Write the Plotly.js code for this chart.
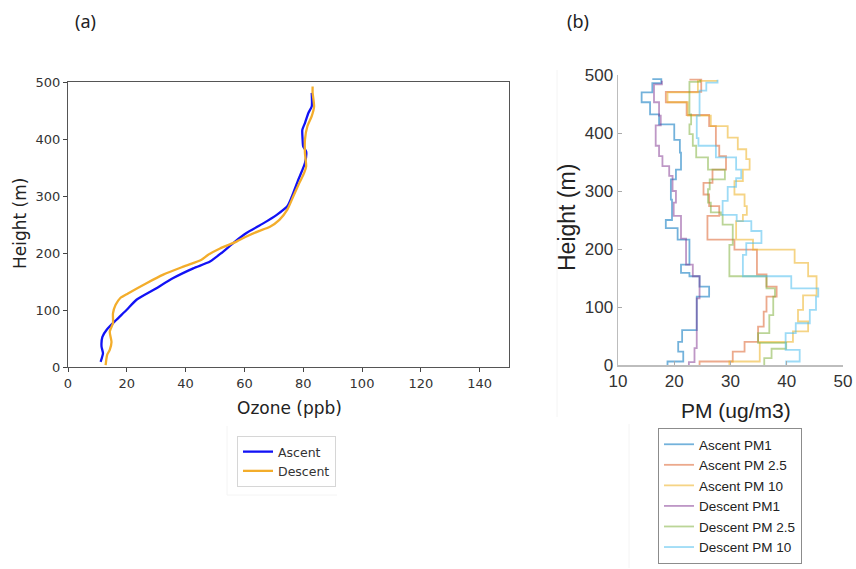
<!DOCTYPE html>
<html>
<head>
<meta charset="utf-8">
<script src="https://cdn.plot.ly/plotly-3.0.1.min.js"></script>
<style>
  html, body { margin: 0; padding: 0; background: #ffffff; }
  #chart { width: 856px; height: 569px; }
</style>
</head>
<body>
<div id="chart"></div>
<script>
// (a) Ozone profiles: ascent and descent, height in metres
const ozoneAscentHeight = [9, 24, 36, 53, 65, 83, 100, 118, 135, 156, 173, 185, 200, 220, 235, 252, 267, 282, 305, 328, 358, 378, 387, 399, 416, 428, 446, 457, 481];
const ozoneAscent       = [11.1, 11.9, 11.4, 11.7, 13.1, 16.5, 19.9, 23.3, 29.0, 35.8, 42.6, 48.3, 52.2, 56.8, 60.7, 66.4, 71.0, 74.6, 76.6, 78.3, 80.6, 81.0, 80.0, 79.8, 79.7, 80.6, 81.8, 82.9, 82.9];
const ozoneDescentHeight = [3.5, 21, 30, 44, 62, 77, 94, 109, 121, 129, 147, 162, 176, 188, 197, 208, 220, 229, 238, 246, 258, 276, 299, 323, 340, 352, 375, 399, 422, 440, 457, 481, 492];
const ozoneDescent       = [12.8, 13.3, 14.2, 14.8, 14.2, 15.3, 15.3, 16.2, 17.8, 20.4, 26.7, 32.4, 39.2, 45.4, 47.7, 51.7, 57.3, 60.7, 64.7, 68.7, 71.9, 74.6, 76.6, 78.7, 80.3, 81.0, 80.6, 80.6, 81.4, 82.9, 83.7, 83.2, 83.2];

// (b) Particulate matter profiles (ug/m3); each value holds from its height up to the next one
const ascPM1Height  = [0, 6, 23, 40, 60, 118, 135, 153, 159, 173, 216, 236, 250, 285, 320, 337, 366, 388, 415, 432, 453, 470, 486, 493];
const ascPM1        = [18.8, 21.6, 20.7, 21.4, 24.0, 26.2, 24.5, 22.7, 21.2, 22.7, 20.6, 18.5, 19.6, 19.4, 20.3, 21.2, 21.0, 20.0, 17.3, 15.7, 14.2, 16.1, 17.7, 16.1];
const ascPM25Height = [0, 6, 23, 40, 66, 92, 118, 135, 156, 199, 216, 257, 274, 294, 314, 337, 360, 378, 412, 431, 453, 471, 492];
const ascPM25       = [24.5, 30.4, 32.5, 34.9, 35.9, 36.4, 38.2, 36.4, 34.7, 30.7, 25.9, 28.0, 26.2, 25.2, 26.8, 29.2, 28.0, 27.4, 26.2, 22.2, 18.5, 24.8, 22.7];
const ascPM10Height = [0, 6, 40, 58, 75, 95, 120, 153, 176, 199, 216, 248, 259, 274, 294, 317, 337, 355, 372, 392, 412, 430, 453, 470, 490];
const ascPM10       = [29.8, 35.2, 41.1, 43.8, 42.0, 42.9, 45.3, 43.8, 41.4, 34.0, 31.0, 32.2, 32.9, 32.5, 30.7, 32.2, 33.4, 32.8, 31.3, 29.5, 26.5, 22.4, 18.8, 24.2, 27.7];
const desPM1Height  = [0, 5, 29, 115, 153, 173, 218, 257, 280, 300, 326, 343, 360, 378, 413, 430, 453, 484, 490];
const desPM1        = [22.6, 23.6, 24.0, 24.5, 23.3, 22.1, 21.2, 19.9, 20.3, 19.7, 19.1, 17.9, 17.3, 16.7, 17.6, 17.3, 16.4, 17.8, 17.8];
const desPM25Height = [0, 12, 28, 38, 55, 86, 118, 132, 153, 207, 242, 259, 263, 280, 303, 320, 337, 358, 378, 398, 415, 432, 488, 492];
const desPM25       = [36.0, 37.3, 39.9, 34.9, 36.9, 37.6, 37.9, 36.4, 29.8, 30.4, 28.6, 28.3, 26.5, 26.0, 26.3, 29.0, 26.0, 23.9, 23.3, 22.7, 23.0, 22.7, 24.6, 24.6];
const desPM10Height = [0, 6, 26, 55, 72, 95, 118, 132, 153, 190, 210, 231, 248, 259, 283, 307, 322, 337, 358, 378, 391, 430, 473, 487, 492];
const desPM10       = [39.9, 42.3, 39.8, 41.6, 44.1, 45.2, 45.6, 40.8, 32.2, 32.8, 35.5, 33.7, 31.1, 28.6, 29.5, 31.0, 31.9, 31.0, 27.4, 24.3, 24.0, 24.5, 25.7, 27.7, 27.7];

const ozoneTicks = [0, 20, 40, 60, 80, 100, 120, 140];
const pmTicks = [10, 20, 30, 40, 50];
const heightTicks = [0, 100, 200, 300, 400, 500];

const pyFont = 'DejaVu Sans, Verdana, sans-serif';
const mlFont = 'Liberation Sans, Arial, Helvetica, sans-serif';

function ozoneTrace(name, x, y, color) {
  return {
    type: 'scatter', mode: 'lines', name: name, x: x, y: y,
    xaxis: 'x', yaxis: 'y', legend: 'legend',
    line: { color: color, width: 2.3, shape: 'spline', smoothing: 0.6 }
  };
}
function pmTrace(name, x, y, color) {
  return {
    type: 'scatter', mode: 'lines', name: name, x: x, y: y,
    xaxis: 'x2', yaxis: 'y2', legend: 'legend2',
    line: { color: color, width: 1.8, shape: 'vh' }
  };
}

const data = [
  ozoneTrace('Ascent', ozoneAscent, ozoneAscentHeight, '#1212f5'),
  ozoneTrace('Descent', ozoneDescent, ozoneDescentHeight, '#f3ad2b'),
  pmTrace('Ascent PM1', ascPM1, ascPM1Height, 'rgba(0,114,189,0.55)'),
  pmTrace('Ascent PM 2.5', ascPM25, ascPM25Height, 'rgba(217,83,25,0.5)'),
  pmTrace('Ascent PM 10', ascPM10, ascPM10Height, 'rgba(237,177,32,0.55)'),
  pmTrace('Descent PM1', desPM1, desPM1Height, 'rgba(126,47,142,0.5)'),
  pmTrace('Descent PM 2.5', desPM25, desPM25Height, 'rgba(119,172,48,0.5)'),
  pmTrace('Descent PM 10', desPM10, desPM10Height, 'rgba(77,190,238,0.55)')
];

const W = 856, H = 569;
const px = v => v / W;
const py = v => 1 - v / H;

function label(text, x, y, family, size, angle) {
  return {
    text: text, x: px(x), y: py(y), xref: 'paper', yref: 'paper', showarrow: false,
    xanchor: 'center', yanchor: 'middle', textangle: angle || 0,
    font: { family: family, size: size, color: '#222' }
  };
}

// faint edges of the separate figure panels
function edge(x0, y0, x1, y1) {
  return {
    type: 'line', xref: 'paper', yref: 'paper', layer: 'below',
    x0: px(x0), x1: px(x1), y0: py(y0), y1: py(y1),
    line: { color: '#f4f4f4', width: 1 }
  };
}

const layout = {
  width: W, height: H,
  margin: { l: 0, r: 0, t: 0, b: 0 },
  paper_bgcolor: '#ffffff', plot_bgcolor: '#ffffff',
  showlegend: true,
  xaxis: {
    domain: [px(68), px(509)], range: [0, 150], anchor: 'y',
    tickvals: ozoneTicks, ticks: 'outside', ticklen: 4, tickcolor: '#444', tickwidth: 1,
    showline: true, linecolor: '#555', linewidth: 1, mirror: true,
    showgrid: false, zeroline: false, fixedrange: true,
    tickfont: { family: pyFont, size: 13, color: '#333' }
  },
  yaxis: {
    domain: [py(367), py(82)], range: [0, 500], anchor: 'x',
    tickvals: heightTicks, ticks: 'outside', ticklen: 4, tickcolor: '#444', tickwidth: 1,
    showline: true, linecolor: '#555', linewidth: 1, mirror: true,
    showgrid: false, zeroline: false, fixedrange: true,
    tickfont: { family: pyFont, size: 13, color: '#333' }
  },
  xaxis2: {
    domain: [px(618), px(843)], range: [10, 50], anchor: 'y2',
    tickvals: pmTicks, ticks: 'inside', ticklen: 4, tickcolor: '#aaa', tickwidth: 1,
    showline: true, linecolor: '#bdbdbd', linewidth: 1.5, mirror: false,
    showgrid: false, zeroline: false, fixedrange: true,
    tickfont: { family: mlFont, size: 17, color: '#333' }
  },
  yaxis2: {
    domain: [py(365), py(75)], range: [0, 500], anchor: 'x2',
    tickvals: heightTicks, ticks: 'inside', ticklen: 4, tickcolor: '#aaa', tickwidth: 1,
    showline: true, linecolor: '#bdbdbd', linewidth: 1.5, mirror: false,
    showgrid: false, zeroline: false, fixedrange: true,
    tickfont: { family: mlFont, size: 17, color: '#333' }
  },
  legend: {
    x: px(237), y: py(436), xanchor: 'left', yanchor: 'top',
    bgcolor: '#ffffff', bordercolor: '#d6d6d6', borderwidth: 1,
    font: { family: pyFont, size: 12.5, color: '#333' },
    tracegroupgap: 0
  },
  legend2: {
    x: px(658), y: py(428), xanchor: 'left', yanchor: 'top',
    bgcolor: '#ffffff', bordercolor: '#8c8c8c', borderwidth: 1,
    font: { family: mlFont, size: 13.5, color: '#222' },
    tracegroupgap: 0
  },
  shapes: [
    edge(557, 70, 557, 417),
    edge(629, 424, 629, 568),
    edge(227, 426, 227, 495),
    edge(227, 495, 337, 495)
  ],
  annotations: [
    label('(a)', 85, 21, 'Noto Sans, sans-serif', 18),
    label('(b)', 578, 21, 'Noto Sans, sans-serif', 18),
    label('Ozone (ppb)', 289, 408, pyFont, 17),
    label('Height (m)', 20, 224, pyFont, 17, -90),
    label('PM (ug/m3)', 736, 410, mlFont, 21),
    label('Height (m)', 567, 218, mlFont, 23, -90)
  ]
};

Plotly.newPlot('chart', data, layout, { displayModeBar: false, staticPlot: true });
</script>
</body>
</html>
